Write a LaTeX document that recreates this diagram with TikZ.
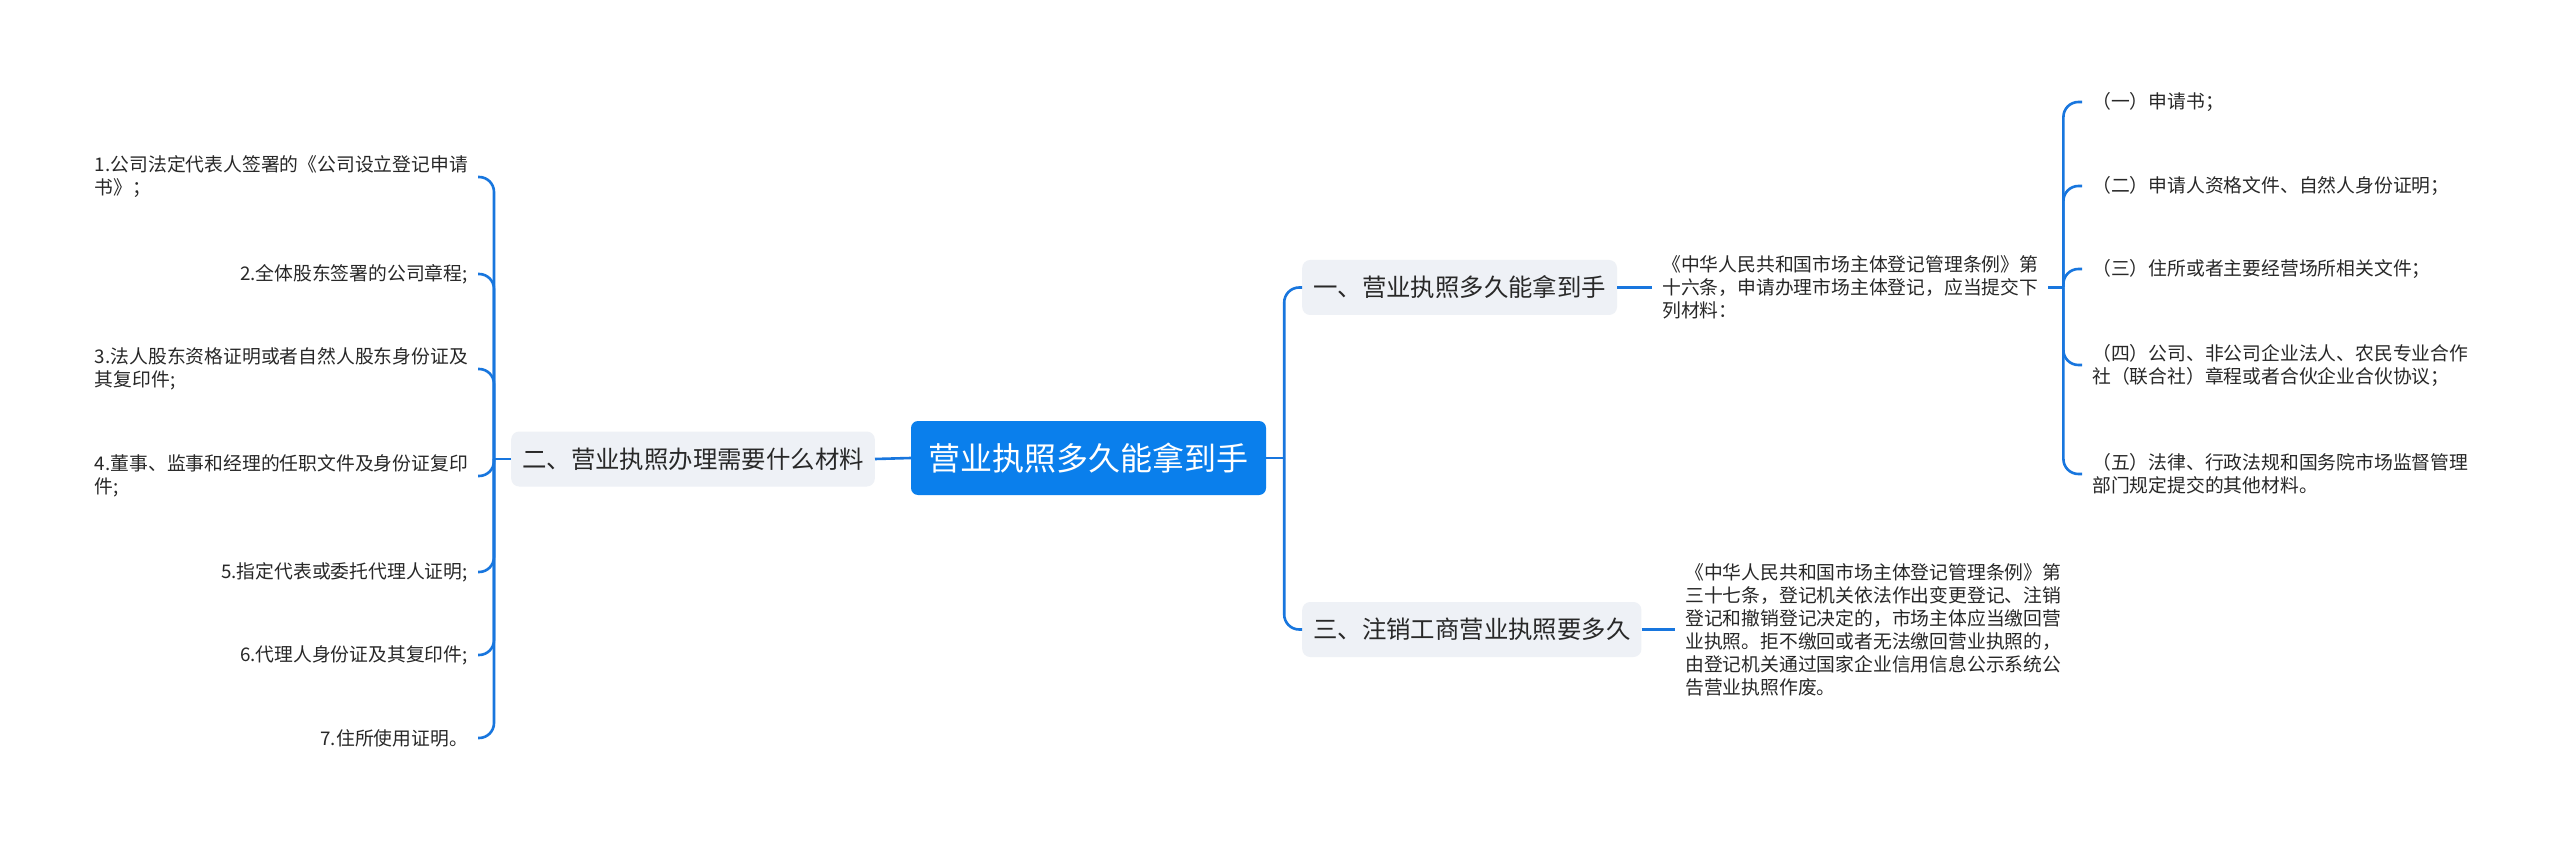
\documentclass[tikz,border=0pt]{standalone}
\usepackage{fontspec}
\setmainfont{Noto Sans CJK SC}
\usepackage{xcolor}
\usepackage{tikz}
\definecolor{MapBlue} {RGB}{ 10, 127, 236}
\definecolor{MapLine} {RGB}{ 24, 118, 222}
\definecolor{MapGrey} {RGB}{238, 241, 246}
\definecolor{MapText} {RGB}{ 40,  40,  40}
\tikzset{
  rootbox/.style={fill=MapBlue, text=white, rounded corners=7pt,
    minimum width=355pt, minimum height=74pt, inner sep=0pt,
    font=\fontsize{32}{36}\selectfont},
  topicbox/.style={fill=MapGrey, text=MapText, rounded corners=8pt,
    minimum height=55pt, inner xsep=11pt,
    font=\fontsize{24.4}{28}\selectfont},
  leaftext/.style={text=MapText, align=left, inner xsep=10pt, inner ysep=2pt,
    font=\fontsize{18.8}{23}\selectfont},
  link/.style={draw=MapLine, line width=2.6pt, rounded corners=15pt},
}

\begin{document}
\begin{tikzpicture}[x=1pt, y=-1pt]
      \useasboundingbox (0,0) rectangle (2560,842);
      \fill[white] (0,0) rectangle (2560,842);
      % Root — blue box in the middle
      \node[rootbox] (root) at (1088.5,458) {营业执照多久能拿到手};
      % Topics — grey boxes
      \node[topicbox, anchor=east] (t2) at (875,459)
        {二、营业执照办理需要什么材料};
      \node[topicbox, anchor=west] (t1) at (1302,287.5)
        {一、营业执照多久能拿到手};
      \node[topicbox, anchor=west] (t3) at (1302,629.5)
        {三、注销工商营业执照要多久};
      % Left leaves — materials list
      \node[leaftext, anchor=east] (l1) at (478,177)
        {1.公司法定代表人签署的《公司设立登记申请\\书》；};
      \node[leaftext, anchor=east] (l2) at (478,274)
        {2.全体股东签署的公司章程;};
      \node[leaftext, anchor=east] (l3) at (478,369)
        {3.法人股东资格证明或者自然人股东身份证及\\其复印件;};
      \node[leaftext, anchor=east] (l4) at (478,476)
        {4.董事、监事和经理的任职文件及身份证复印\\件;};
      \node[leaftext, anchor=east] (l5) at (478,572)
        {5.指定代表或委托代理人证明;};
      \node[leaftext, anchor=east] (l6) at (478,655)
        {6.代理人身份证及其复印件;};
      \node[leaftext, anchor=east] (l7) at (478,738)
        {7.住所使用证明。};
      % Right side — article texts
      \node[leaftext, anchor=west] (m1) at (1652,287.5)
        {《中华人民共和国市场主体登记管理条例》第\\
         十六条，申请办理市场主体登记，应当提交下\\
         列材料：};
      \node[leaftext, anchor=west] (m3) at (1675,629.5)
        {《中华人民共和国市场主体登记管理条例》第\\
         三十七条，登记机关依法作出变更登记、注销\\
         登记和撤销登记决定的，市场主体应当缴回营\\
         业执照。拒不缴回或者无法缴回营业执照的，\\
         由登记机关通过国家企业信用信息公示系统公\\
         告营业执照作废。};
      % Far right leaves
      \node[leaftext, anchor=west] (r1) at (2082,102) {（一）申请书；};
      \node[leaftext, anchor=west] (r2) at (2082,186)
        {（二）申请人资格文件、自然人身份证明；};
      \node[leaftext, anchor=west] (r3) at (2082,269)
        {（三）住所或者主要经营场所相关文件；};
      \node[leaftext, anchor=west] (r4) at (2082,365)
        {（四）公司、非公司企业法人、农民专业合作\\
         社（联合社）章程或者合伙企业合伙协议；};
      \node[leaftext, anchor=west] (r5) at (2082,474)
        {（五）法律、行政法规和国务院市场监督管理\\
         部门规定提交的其他材料。};
      % Connectors — root to left topic and its leaves
      \draw[link] (root.west) -- (t2.east);
      \coordinate (lj) at ([xshift=-17pt]t2.west);
      \draw[link] (t2.west) -- (lj);
      \draw[link] (lj) |- (l1.east);
      \draw[link] (lj) |- (l2.east);
      \draw[link] (lj) |- (l3.east);
      \draw[link] (lj) |- (l4.east);
      \draw[link] (lj) |- (l5.east);
      \draw[link] (lj) |- (l6.east);
      \draw[link] (lj) |- (l7.east);
      % Connectors — root to right topics
      \coordinate (rj) at ([xshift=18pt]root.east);
      \draw[link] (root.east) -- (rj);
      \draw[link] (rj) |- (t1.west);
      \draw[link] (rj) |- (t3.west);
      \draw[link] (t1.east) -- (m1.west);
      \draw[link] (t3.east) -- (m3.west);
      % Connectors — article text to its list
      \coordinate (mj) at ([xshift=15pt]m1.east);
      \draw[link] (m1.east) -- (mj);
      \draw[link] (mj) |- (r1.west);
      \draw[link] (mj) |- (r2.west);
      \draw[link] (mj) |- (r3.west);
      \draw[link] (mj) |- (r4.west);
      \draw[link] (mj) |- (r5.west);
    \end{tikzpicture}
\end{document}
